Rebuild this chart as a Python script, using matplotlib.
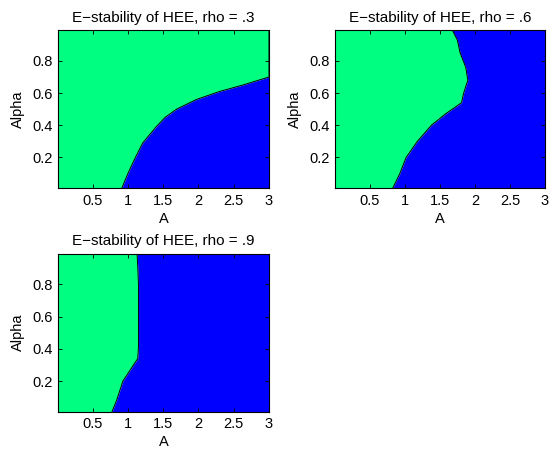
import matplotlib
matplotlib.use("Agg")
import matplotlib.pyplot as plt

plt.rcParams['font.family'] = ['Liberation Sans', 'DejaVu Sans']

# boundary between regions: A value as a function of alpha
alpha_rho3 = [0.01, 0.1, 0.185, 0.29, 0.39, 0.45, 0.5, 0.56, 0.61, 0.65, 0.7, 0.99]
A_rho3 = [0.915, 1.0, 1.09, 1.21, 1.40, 1.53, 1.69, 1.97, 2.30, 2.63, 3.0, 3.0]

alpha_rho6 = [0.01, 0.1, 0.2, 0.3, 0.4, 0.47, 0.54, 0.6, 0.68, 0.76, 0.85, 0.93, 0.99]
A_rho6 = [0.83, 0.93, 1.02, 1.18, 1.38, 1.58, 1.81, 1.84, 1.90, 1.87, 1.79, 1.75, 1.68]

alpha_rho9 = [0.01, 0.08, 0.2, 0.26, 0.34, 0.41, 0.8, 0.91, 0.99]
A_rho9 = [0.775, 0.84, 0.93, 1.02, 1.14, 1.15, 1.15, 1.14, 1.13]

panels = [
    ("E\u2212stability of HEE, rho = .3", alpha_rho3, A_rho3),
    ("E\u2212stability of HEE, rho = .6", alpha_rho6, A_rho6),
    ("E\u2212stability of HEE, rho = .9", alpha_rho9, A_rho9),
]

xticks = [0.5, 1, 1.5, 2, 2.5, 3]
xticklabels = ['0.5', '1', '1.5', '2', '2.5', '3']
yticks = [0.2, 0.4, 0.6, 0.8]
yticklabels = ['0.2', '0.4', '0.6', '0.8']

green = "#00FF80"
blue = "#0000FF"
xmin, xmax = 0.01, 3.0
ymin, ymax = 0.01, 0.99

fig = plt.figure(figsize=(5.51, 4.55), dpi=100)
positions = [
    [0.1053, 0.5868, 0.3829, 0.3466],
    [0.6085, 0.5868, 0.3806, 0.3466],
    [0.1053, 0.0952, 0.3829, 0.3473],
]

for (title, alpha, A), pos in zip(panels, positions):
    ax = fig.add_axes(pos)
    ax.fill_betweenx(alpha, xmin, A, color=green, linewidth=0)
    ax.fill_betweenx(alpha, A, xmax, color=blue, linewidth=0)
    ax.plot(A, alpha, color="black", linewidth=0.7)
    ax.set_xlim(xmin, xmax)
    ax.set_ylim(ymin, ymax)
    ax.set_xticks(xticks)
    ax.set_xticklabels(xticklabels)
    ax.set_yticks(yticks)
    ax.set_yticklabels(yticklabels)
    ax.tick_params(direction="in", length=3, width=0.6, top=True, right=True,
                   labelsize=10.5, pad=4)
    for sp in ax.spines.values():
        sp.set_linewidth(0.8)
    ax.set_title(title, fontsize=11, pad=6)
    ax.set_xlabel("A", fontsize=10.5, labelpad=3)
    ax.set_ylabel("Alpha", fontsize=10.5, labelpad=5)

fig.savefig("out.png", dpi=100)
